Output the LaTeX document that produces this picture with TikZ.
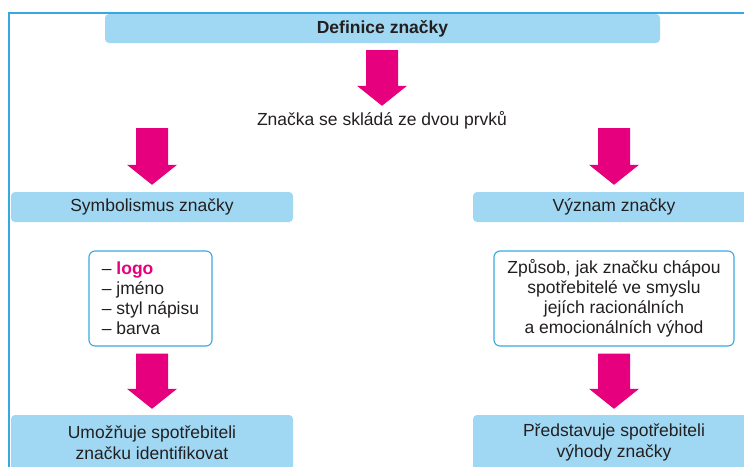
\documentclass[tikz,border=0pt]{standalone}
\usepackage{fontspec}
\setmainfont{Liberation Sans}
\usetikzlibrary{calc}
\definecolor{boxblue}{RGB}{160,216,243}
\definecolor{lineblue}{RGB}{54,169,225}
\definecolor{pinkc}{RGB}{230,0,126}
\definecolor{txt}{RGB}{35,31,32}
\newcommand{\mainfs}{\fontsize{17.5pt}{20pt}\selectfont}
\begin{document}
\begin{tikzpicture}[x=1pt,y=-1pt,
  every node/.style={text=txt, font=\mainfs},
  bluebox/.style={fill=boxblue, rounded corners=4pt, inner sep=0pt, align=center},
  textbox/.style={draw=lineblue, line width=1.1pt, fill=white, rounded corners=6pt, inner sep=0pt},
  plaintext/.style={inner sep=0pt, text height=13pt, text depth=4pt},
  blockarrow/.style={fill=pinkc, to path={
    let \p1=(\tikztostart), \p2=(\tikztotarget) in
    (\x2-16pt,\y1) -- (\x2+16pt,\y1) -- (\x2+16pt,\y2+20pt) -- (\x2+25pt,\y2+20pt)
    -- (\x2,\y2) -- (\x2-25pt,\y2+20pt) -- (\x2-16pt,\y2+20pt) -- cycle}}
]
\useasboundingbox (0,0) rectangle (744,466);
\clip (0,0) rectangle (744,466);

% boxes and texts
\node[bluebox, minimum width=555pt, minimum height=29pt, font=\mainfs\bfseries] (top) at (382.5,28.5) {Definice značky};
\node[plaintext] (mid) at (382,121) {Značka se skládá ze dvou prvků};
\node[bluebox, minimum width=282pt, minimum height=30pt] (sym) at (152,207) {Symbolismus značky};
\node[bluebox, minimum width=282pt, minimum height=30pt] (mean) at (614,207) {Význam značky};
\node[textbox, minimum width=123pt, minimum height=95pt, align=left] (list) at (150.5,298.5)
  {– \textcolor{pinkc}{\textbf{logo}}\\– jméno\\– styl nápisu\\– barva};
\node[textbox, minimum width=240pt, minimum height=95pt, align=center] (way) at (614,298.5)
  {Způsob, jak značku chápou\\spotřebitelé ve smyslu\\jejích racionálních\\a emocionálních výhod};
\node[bluebox, minimum width=282pt, minimum height=55pt, font=\fontsize{17.5pt}{21pt}\selectfont] (ident) at (152,442.5)
  {Umožňuje spotřebiteli\\značku identifikovat};
\node[bluebox, minimum width=282pt, minimum height=55pt, font=\fontsize{17.5pt}{21pt}\selectfont] (adv) at (614,442.5)
  {Představuje spotřebiteli\\výhody značky};

% block arrows
\fill[blockarrow] ([yshift=-7pt]top.south) to ([yshift=6.5pt]mid.north);
\fill[blockarrow] ([yshift=1.5pt]mid.south) to ([yshift=7pt]sym.north);
\fill[blockarrow] ([yshift=1.5pt]mid.south) to ([yshift=7pt]mean.north);
\fill[blockarrow] ([yshift=-7pt]list.south) to ([yshift=6pt]ident.north);
\fill[blockarrow] ([yshift=-7pt]way.south) to ([yshift=6pt]adv.north);

% frame
\draw[lineblue, line width=1.5pt] (9,470) -- (9,13) -- (750,13);
\end{tikzpicture}
\end{document}
